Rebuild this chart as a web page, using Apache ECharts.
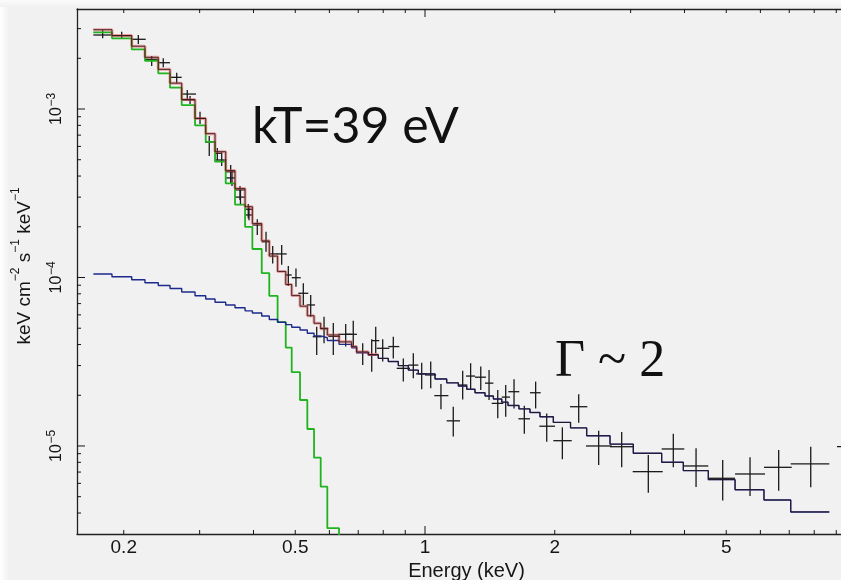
<!DOCTYPE html>
<html><head><meta charset="utf-8">
<script src="https://cdn.jsdelivr.net/npm/echarts@6/dist/echarts.min.js"></script>
<style>html,body{margin:0;padding:0;background:#f1f1f1}#chart{width:841px;height:580px}</style>
</head><body><div id="chart"></div>
<script>
// ---- model bins (keV edges) ----
const binEdges = [0.1700,0.1878,0.2087,0.2240,0.2405,0.2561,0.2726,0.2927,0.3099,0.3257,0.3448,0.3624,0.3824,0.3976,0.4180,0.4352,0.4550,0.4752,0.4906,0.5129,0.5333,0.5528,0.5728,0.5934,0.6318,0.6758,0.6941,0.7386,0.7791,0.8219,0.8671,0.9147,0.9649,1.055,1.123,1.195,1.250,1.306,1.378,1.441,1.507,1.558,1.652,1.752,1.848,1.985,2.176,2.372,2.687,3.043,3.541,3.975,4.543,5.241,6.116,7.056,8.671];
// power-law component (blue)
const powerlawModel = [1.049e-4,1.011e-4,9.70e-5,9.31e-5,8.96e-5,8.60e-5,8.20e-5,7.80e-5,7.45e-5,7.13e-5,6.87e-5,6.62e-5,6.34e-5,6.16e-5,5.91e-5,5.63e-5,5.42e-5,5.25e-5,5.07e-5,4.88e-5,4.67e-5,4.50e-5,4.39e-5,4.23e-5,4.01e-5,3.83e-5,3.58e-5,3.47e-5,3.31e-5,3.17e-5,3.00e-5,2.82e-5,2.68e-5,2.50e-5,2.37e-5,2.27e-5,2.17e-5,2.07e-5,1.98e-5,1.90e-5,1.82e-5,1.74e-5,1.66e-5,1.58e-5,1.49e-5,1.38e-5,1.28e-5,1.15e-5,1.025e-5,9.05e-6,8.00e-6,7.14e-6,6.31e-6,5.50e-6,4.78e-6,4.06e-6];
// blackbody component (green), last bin falls below the plot
const bbodyModel = [2.851e-3,2.628e-3,2.262e-3,1.934e-3,1.629e-3,1.338e-3,1.056e-3,8.00e-4,6.39e-4,4.87e-4,3.62e-4,2.71e-4,2.00e-4,1.476e-4,1.063e-4,7.77e-5,5.44e-5,3.84e-5,2.74e-5,1.875e-5,1.261e-5,8.52e-6,5.73e-6,3.25e-6,1.0e-6];
// total model (red / black)
const totalModel = [2.956e-3,2.729e-3,2.359e-3,2.027e-3,1.719e-3,1.424e-3,1.138e-3,8.78e-4,7.14e-4,5.58e-4,4.31e-4,3.37e-4,2.63e-4,2.09e-4,1.65e-4,1.34e-4,1.086e-4,9.09e-5,7.81e-5,6.76e-5,5.93e-5,5.35e-5,4.96e-5,4.56e-5,4.15e-5,3.90e-5,3.62e-5,3.49e-5,3.31e-5,3.17e-5,3.00e-5,2.82e-5,2.68e-5,2.50e-5,2.37e-5,2.27e-5,2.17e-5,2.07e-5,1.98e-5,1.90e-5,1.82e-5,1.74e-5,1.66e-5,1.58e-5,1.49e-5,1.38e-5,1.28e-5,1.15e-5,1.025e-5,9.05e-6,8.00e-6,7.14e-6,6.31e-6,5.50e-6,4.78e-6,4.06e-6];
const redBins = 28;

// ---- data points (crosses) ----
const dataE   = [0.1787,0.1978,0.2162,0.2322,0.2470,0.2654,0.2808,0.2850,0.3006,0.3158,0.3297,0.3375,0.3541,0.3566,0.3722,0.3731,0.3890,0.3905,0.4082,0.4277,0.4432,0.4650,0.4818,0.5019,0.5220,0.5430,0.5607,0.5831,0.6127,0.6546,0.6816,0.7169,0.7522,0.7685,0.7977,0.8442,0.8906,0.9395,0.9825,1.031,1.089,1.163,1.223,1.276,1.347,1.408,1.475,1.539,1.609,1.700,1.806,1.916,2.083,2.273,2.529,2.860,3.297,3.768,4.255,4.906,5.677,6.616,7.852,9.900];
const dataELo = [0.1700,0.1875,0.2087,0.2240,0.2405,0.2561,0.2726,0.2728,0.2927,0.3087,0.3257,0.3257,0.3453,0.3453,0.3624,0.3624,0.3824,0.3824,0.3976,0.4180,0.4352,0.4529,0.4752,0.4906,0.5082,0.5316,0.5488,0.5707,0.5966,0.6292,0.6522,0.6916,0.7374,0.7534,0.7725,0.8219,0.8596,0.9147,0.9530,1.000,1.051,1.123,1.195,1.245,1.306,1.378,1.428,1.507,1.561,1.647,1.752,1.842,1.985,2.170,2.363,2.687,3.033,3.541,3.975,4.543,5.241,6.116,7.056,9.035];
const dataEHi = [0.1875,0.2087,0.2249,0.2405,0.2561,0.2726,0.2942,0.2927,0.3103,0.3257,0.3363,0.3467,0.3624,0.3624,0.3824,0.3824,0.3976,0.3976,0.4180,0.4352,0.4550,0.4777,0.4906,0.5148,0.5361,0.5557,0.5758,0.5966,0.6350,0.6758,0.6952,0.7427,0.7697,0.7834,0.8265,0.8717,0.9230,0.9649,1.009,1.061,1.133,1.206,1.254,1.306,1.385,1.441,1.519,1.575,1.655,1.752,1.855,2.003,2.190,2.380,2.712,3.043,3.561,3.996,4.543,5.241,6.150,7.093,8.671,10.90];
const dataF   = [2.750e-3,2.723e-3,2.593e-3,1.972e-3,1.883e-3,1.542e-3,1.227e-3,1.131e-3,8.81e-4,6.37e-4,5.46e-4,4.98e-4,4.24e-4,3.90e-4,3.31e-4,3.00e-4,2.54e-4,2.35e-4,2.05e-4,1.63e-4,1.38e-4,1.38e-4,1.035e-4,9.97e-5,8.06e-5,6.87e-5,4.45e-5,4.99e-5,4.47e-5,4.60e-5,4.60e-5,3.58e-5,3.47e-5,4.22e-5,3.80e-5,3.89e-5,2.89e-5,3.02e-5,2.68e-5,2.64e-5,1.99e-5,1.41e-5,2.30e-5,2.60e-5,2.56e-5,2.36e-5,1.79e-5,1.95e-5,2.10e-5,1.45e-5,2.07e-5,1.31e-5,1.075e-5,1.71e-5,1.00e-5,9.90e-6,7.04e-6,9.60e-6,7.61e-6,6.43e-6,6.82e-6,7.47e-6,7.82e-6,9.90e-6];
const dataFLo = [2.628e-3,2.628e-3,2.431e-3,1.800e-3,1.768e-3,1.420e-3,1.131e-3,1.071e-3,8.15e-4,5.26e-4,4.98e-4,4.59e-4,3.64e-4,3.49e-4,2.88e-4,2.69e-4,2.25e-4,2.19e-4,1.79e-4,1.42e-4,1.21e-4,1.19e-4,8.90e-5,8.82e-5,6.87e-5,5.85e-5,3.47e-5,4.07e-5,3.47e-5,3.89e-5,3.89e-5,3.02e-5,2.76e-5,3.55e-5,3.17e-5,3.31e-5,2.41e-5,2.52e-5,2.17e-5,2.20e-5,1.65e-5,1.14e-5,1.89e-5,2.17e-5,2.15e-5,1.875e-5,1.46e-5,1.49e-5,1.67e-5,1.18e-5,1.67e-5,1.06e-5,8.34e-6,1.375e-5,7.71e-6,7.47e-6,5.28e-6,7.47e-6,5.71e-6,4.74e-6,5.05e-6,5.43e-6,5.69e-6,7.70e-6];
const dataFHi = [2.940e-3,2.876e-3,2.750e-3,2.063e-3,2.000e-3,1.642e-3,1.297e-3,1.195e-3,9.64e-4,6.91e-4,5.87e-4,5.56e-4,4.65e-4,4.35e-4,3.49e-4,3.31e-4,2.73e-4,2.66e-4,2.22e-4,1.87e-4,1.54e-4,1.56e-4,1.17e-4,1.13e-4,9.24e-5,7.87e-5,5.10e-5,5.85e-5,5.37e-5,5.30e-5,5.54e-5,4.07e-5,4.30e-5,5.10e-5,4.30e-5,4.45e-5,3.31e-5,3.55e-5,3.12e-5,3.17e-5,2.33e-5,1.71e-5,2.80e-5,3.10e-5,2.96e-5,2.82e-5,2.15e-5,2.30e-5,2.49e-5,1.73e-5,2.41e-5,1.56e-5,1.29e-5,2.03e-5,1.23e-5,1.21e-5,8.85e-6,1.18e-5,9.69e-6,8.26e-6,8.57e-6,9.47e-6,9.90e-6,1.25e-5];

// ---- axes ticks / labels ----
const xMinorTicks = [0.2,0.3,0.4,0.5,0.6,0.7,0.8,0.9,2,3,4,5,6,7,8,9];
const xMajorTicks = [1];
const xLabelValues = [0.2,0.5,1,2,5];
const xLabelTexts = ['0.2','0.5','1','2','5'];
const yMajorTicks = [1e-5,1e-4,1e-3];
const yMinorTicks = [4e-6,5e-6,6e-6,7e-6,8e-6,9e-6,2e-5,3e-5,4e-5,5e-5,6e-5,7e-5,8e-5,9e-5,2e-4,3e-4,4e-4,5e-4,6e-4,7e-4,8e-4,9e-4,2e-3,3e-3];
const yLabelExps = ['\u22125','\u22124','\u22123'];

const FONT = '"Liberation Sans", Arial, Helvetica, sans-serif';
const INK = '#151515';

function stepData(levels, count) {
  const n = count || levels.length;
  const pts = [];
  for (let i = 0; i < n; i++) pts.push([binEdges[i], levels[i]]);
  pts.push([binEdges[n], levels[n - 1]]);
  return pts;
}

function renderXTick(params, api) {
  const v = api.value(0);
  const cs = params.coordSys;
  const px = api.coord([v, 1e-4])[0];
  const len = xMajorTicks.indexOf(v) >= 0 ? 8 : 4;
  const bottom = cs.y + cs.height, top = cs.y;
  const children = [
    {type: 'line', shape: {x1: px, y1: bottom, x2: px, y2: bottom - len}, style: {stroke: INK, lineWidth: 1}},
    {type: 'line', shape: {x1: px, y1: top, x2: px, y2: top + len}, style: {stroke: INK, lineWidth: 1}}
  ];
  const li = xLabelValues.indexOf(v);
  if (li >= 0) {
    children.push({type: 'text', x: px, y: bottom + 14,
      style: {text: xLabelTexts[li], fontSize: 19, fontFamily: FONT, fill: INK, align: 'center', verticalAlign: 'middle'}});
  }
  return {type: 'group', children};
}

function renderYTick(params, api) {
  const v = api.value(1);
  const cs = params.coordSys;
  const py = api.coord([1, v])[1];
  const mi = yMajorTicks.indexOf(v);
  const len = mi >= 0 ? 8 : 4;
  const children = [
    {type: 'line', shape: {x1: cs.x, y1: py, x2: cs.x + len, y2: py}, style: {stroke: INK, lineWidth: 1}}
  ];
  if (mi >= 0) {
    children.push({type: 'group', x: cs.x - 20, y: py, rotation: Math.PI / 2, children: [
      {type: 'text', x: -16, y: 0, style: {text: '10', fontSize: 16, fontFamily: FONT, fill: INK, align: 'left', verticalAlign: 'middle'}},
      {type: 'text', x: 2.5, y: -5.5, style: {text: yLabelExps[mi], fontSize: 12, fontFamily: FONT, fill: INK, align: 'left', verticalAlign: 'middle'}}
    ]});
  }
  return {type: 'group', children};
}

function renderCross(params, api) {
  const c = api.coord([api.value(0), api.value(1)]);
  const l = api.coord([api.value(2), api.value(1)]);
  const r = api.coord([api.value(3), api.value(1)]);
  const lo = api.coord([api.value(0), api.value(4)]);
  const hi = api.coord([api.value(0), api.value(5)]);
  const st = {stroke: '#1a1a1a', lineWidth: 1.3};
  return {type: 'group', children: [
    {type: 'line', shape: {x1: l[0], y1: c[1], x2: r[0], y2: c[1]}, style: st},
    {type: 'line', shape: {x1: c[0], y1: lo[1], x2: c[0], y2: hi[1]}, style: st}
  ]};
}

const chart = echarts.init(document.getElementById('chart'), null, {renderer: 'canvas'});
const axisCommon = {
  type: 'log', logBase: 10,
  axisTick: {show: false}, axisLabel: {show: false}, splitLine: {show: false},
  minorTick: {show: false}, minorSplitLine: {show: false}
};
chart.setOption({
  animation: false,
  backgroundColor: '#f1f1f1',
  grid: {left: 77, top: 9, width: 779, height: 525, outerBoundsMode: 'none', containLabel: false},
  xAxis: [
    Object.assign({}, axisCommon, {min: 0.1558, max: 10, position: 'bottom',
      axisLine: {show: true, onZero: false, lineStyle: {color: '#222', width: 1.3}}}),
    Object.assign({}, axisCommon, {min: 0.1558, max: 10, position: 'top',
      axisLine: {show: true, onZero: false, lineStyle: {color: '#222', width: 1.3}}})
  ],
  yAxis: Object.assign({}, axisCommon, {min: 3.003e-6, max: 3.923e-3,
    axisLine: {show: true, onZero: false, lineStyle: {color: '#222', width: 1.3}}}),
  graphic: [
    {type: 'rect', left: 0, top: 0, shape: {width: 9, height: 580}, z: -10,
      style: {fill: new echarts.graphic.LinearGradient(0, 0, 1, 0, [{offset: 0, color: '#ffffff'}, {offset: 1, color: '#f1f1f1'}])}},
    {type: 'rect', left: 0, top: 0, shape: {width: 841, height: 7}, z: -10,
      style: {fill: new echarts.graphic.LinearGradient(0, 0, 0, 1, [{offset: 0, color: '#fbfbfb'}, {offset: 1, color: '#f1f1f1'}])}},
    {type: 'text', x: 466.5, y: 571, z: 10,
      style: {text: 'Energy (keV)', fontSize: 20, fontFamily: FONT, fill: INK, align: 'center', verticalAlign: 'middle'}},
    {type: 'text', x: 22, y: 266, rotation: Math.PI / 2, z: 10,
      style: {text: '{n|keV cm}{s|\u22122}{n| s}{s|\u22121}{n| keV}{s|\u22121}', align: 'center', verticalAlign: 'middle',
        rich: {n: {fontSize: 19, fontFamily: FONT, fill: INK, lineHeight: 24, verticalAlign: 'bottom'},
               s: {fontSize: 12, fontFamily: FONT, fill: INK, verticalAlign: 'top'}}}},
    {type: 'text', x: 252, y: 127, z: 10,
      style: {text: 'kT=39 eV', fontSize: 50, fontFamily: 'Lato, "Open Sans", sans-serif', fill: '#111', align: 'left', verticalAlign: 'middle'}},
    {type: 'text', x: 555, y: 362, z: 10,
      style: {text: '\u0393 ~ 2', fontSize: 52, fontFamily: '"Liberation Serif", "Times New Roman", serif', fill: '#111', align: 'left', verticalAlign: 'middle'}}
  ],
  series: [
    {type: 'line', name: 'bbody', data: stepData(bbodyModel), step: 'end', symbol: 'none', silent: true, clip: true,
      lineStyle: {color: '#1fb41f', width: 1.8}},
    {type: 'line', name: 'powerlaw', data: stepData(powerlawModel), step: 'end', symbol: 'none', silent: true, clip: true,
      lineStyle: {color: '#1c2a8c', width: 1.4}},
    {type: 'line', name: 'total-red', data: stepData(totalModel, redBins), step: 'end', symbol: 'none', silent: true, clip: true,
      lineStyle: {color: 'rgba(228,80,80,0.5)', width: 3}},
    {type: 'line', name: 'total', data: stepData(totalModel), step: 'end', symbol: 'none', silent: true, clip: true,
      lineStyle: {color: 'rgba(40,20,20,0.85)', width: 1}},
    {type: 'custom', name: 'data', coordinateSystem: 'cartesian2d', clip: true, silent: true,
      data: dataE.map((e, i) => [e, dataF[i], dataELo[i], dataEHi[i], dataFLo[i], dataFHi[i]]),
      encode: {x: [0, 2, 3], y: [1, 4, 5]}, renderItem: renderCross},
    {type: 'custom', name: 'xticks', coordinateSystem: 'cartesian2d', clip: false, silent: true,
      data: xMinorTicks.concat(xMajorTicks).map(v => [v, 1e-4]), renderItem: renderXTick},
    {type: 'custom', name: 'yticks', coordinateSystem: 'cartesian2d', clip: false, silent: true,
      data: yMinorTicks.concat(yMajorTicks).map(v => [1, v]), renderItem: renderYTick}
  ]
});
</script></body></html>
